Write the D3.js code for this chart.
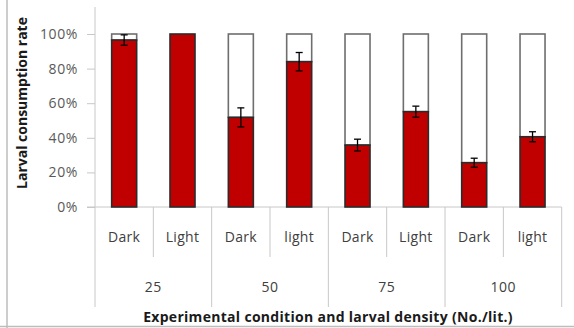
<!DOCTYPE html>
<html>
<head>
<meta charset="utf-8">
<script src="https://cdn.jsdelivr.net/npm/d3@7"></script>
<style>
  html, body { margin: 0; padding: 0; background: #fff; }
  svg { display: block; }
  text { font-family: "Open Sans", Lato, sans-serif; }
</style>
</head>
<body>
<svg id="chart" width="574" height="328"></svg>
<script>
// ---- data ----
const conditions = ["Dark", "Light", "Dark", "light", "Dark", "Light", "Dark", "light"];
const densities = ["25", "50", "75", "100"];
const consumption = [96.5, 100, 51.8, 84.0, 35.8, 55.1, 25.6, 40.6];
const errors = [3.0, 0, 5.5, 5.3, 3.4, 3.2, 2.6, 2.9];
const yTicks = [0, 20, 40, 60, 80, 100];

const svg = d3.select("#chart");
const W = 574, H = 328;
const m = { left: 95, right: 12.3, top: 34, bottom: 121 };
const plotTop = 7;
const x0 = m.left, x1 = W - m.right;
const yBottom = H - m.bottom;

const idx = conditions.map((d, i) => i);
const x = d3.scaleBand().domain(idx).range([x0, x1]).paddingInner(0).paddingOuter(0);
const y = d3.scaleLinear().domain([0, 100]).range([yBottom, m.top]);
const gx = d3.scaleBand().domain(densities).range([x0, x1]);

const axisCol = "#c8c8c8";

// outer frame lines
svg.append("line").attr("x1", 7).attr("x2", 7).attr("y1", 0).attr("y2", H).attr("stroke", "#bdbdbd").attr("stroke-width", 1.5);
svg.append("line").attr("x1", 0).attr("x2", W).attr("y1", 326.5).attr("y2", 326.5).attr("stroke", "#bdbdbd").attr("stroke-width", 1.5);

// y axis
const yAxis = d3.axisLeft(y).tickValues(yTicks).tickFormat(d => d + "%").tickSize(8).tickPadding(9);
const gy = svg.append("g").attr("transform", `translate(${x0},0)`).call(yAxis);
gy.select(".domain").remove();
gy.selectAll(".tick line").attr("stroke", axisCol);
gy.selectAll(".tick text").attr("fill", "#595959").style("font-size", "14px")
  .style("letter-spacing", "0.6px").style("font-family", "'Open Sans', sans-serif");
svg.append("line").attr("x1", x0).attr("x2", x0).attr("y1", plotTop).attr("y2", yBottom).attr("stroke", axisCol);

// x axis baseline
svg.append("line").attr("x1", x0 - 8).attr("x2", x1).attr("y1", yBottom).attr("y2", yBottom).attr("stroke", axisCol);

// category separators
idx.concat([idx.length]).forEach(i => {
  const xx = i < idx.length ? x(i) : x1;
  const full = (i % 2 === 0);
  svg.append("line").attr("x1", xx).attr("x2", xx)
    .attr("y1", yBottom).attr("y2", full ? 307 : 257)
    .attr("stroke", axisCol);
});

// bars
const bw = 25;
const g = svg.append("g");
idx.forEach(i => {
  const cx = x(i) + x.bandwidth() / 2;
  const v = consumption[i];
  if (v < 100) {
    g.append("rect").attr("x", cx - bw / 2).attr("width", bw)
      .attr("y", y(100)).attr("height", y(v) - y(100))
      .attr("fill", "#fff").attr("stroke", "#6e6e6e").attr("stroke-width", 1.6);
  }
  g.append("rect").attr("x", cx - bw / 2).attr("width", bw)
    .attr("y", y(v)).attr("height", y(0) - y(v))
    .attr("fill", "#c00000").attr("stroke", "#2b2b2b").attr("stroke-width", 1.6);
});

// error bars
idx.forEach(i => {
  const e = errors[i];
  if (!e) return;
  const cx = x(i) + x.bandwidth() / 2;
  const v = consumption[i];
  const top = y(Math.min(v + e, 100)), bot = y(v - e);
  g.append("line").attr("x1", cx).attr("x2", cx).attr("y1", top).attr("y2", bot).attr("stroke", "#000").attr("stroke-width", 1.3);
  [top, bot].forEach(yy => g.append("line").attr("x1", cx - 3.5).attr("x2", cx + 3.5).attr("y1", yy).attr("y2", yy).attr("stroke", "#000").attr("stroke-width", 1.3));
});

// condition labels
idx.forEach(i => {
  svg.append("text").attr("x", x(i) + x.bandwidth() / 2).attr("y", 242)
    .attr("text-anchor", "middle").attr("fill", "#404040").style("font-size", "14px")
    .style("letter-spacing", "0.3px")
    .text(conditions[i]);
});
// density labels
densities.forEach(d => {
  svg.append("text").attr("x", gx(d) + gx.bandwidth() / 2).attr("y", 292)
    .attr("text-anchor", "middle").attr("fill", "#404040").style("font-size", "14px")
    .style("letter-spacing", "0.5px")
    .text(d);
});

// axis titles
svg.append("text").attr("x", 328).attr("y", 322).attr("text-anchor", "middle")
  .attr("fill", "#1a1a1a").style("font-size", "14px").style("font-weight", "bold")
  .style("letter-spacing", "0.3px")
  .text("Experimental condition and larval density (No./lit.)");
svg.append("text").attr("transform", "translate(27,103) rotate(-90)").attr("text-anchor", "middle")
  .attr("fill", "#1a1a1a").style("font-size", "14px").style("font-weight", "bold")
  .text("Larval consumption rate");
</script>
</body>
</html>
